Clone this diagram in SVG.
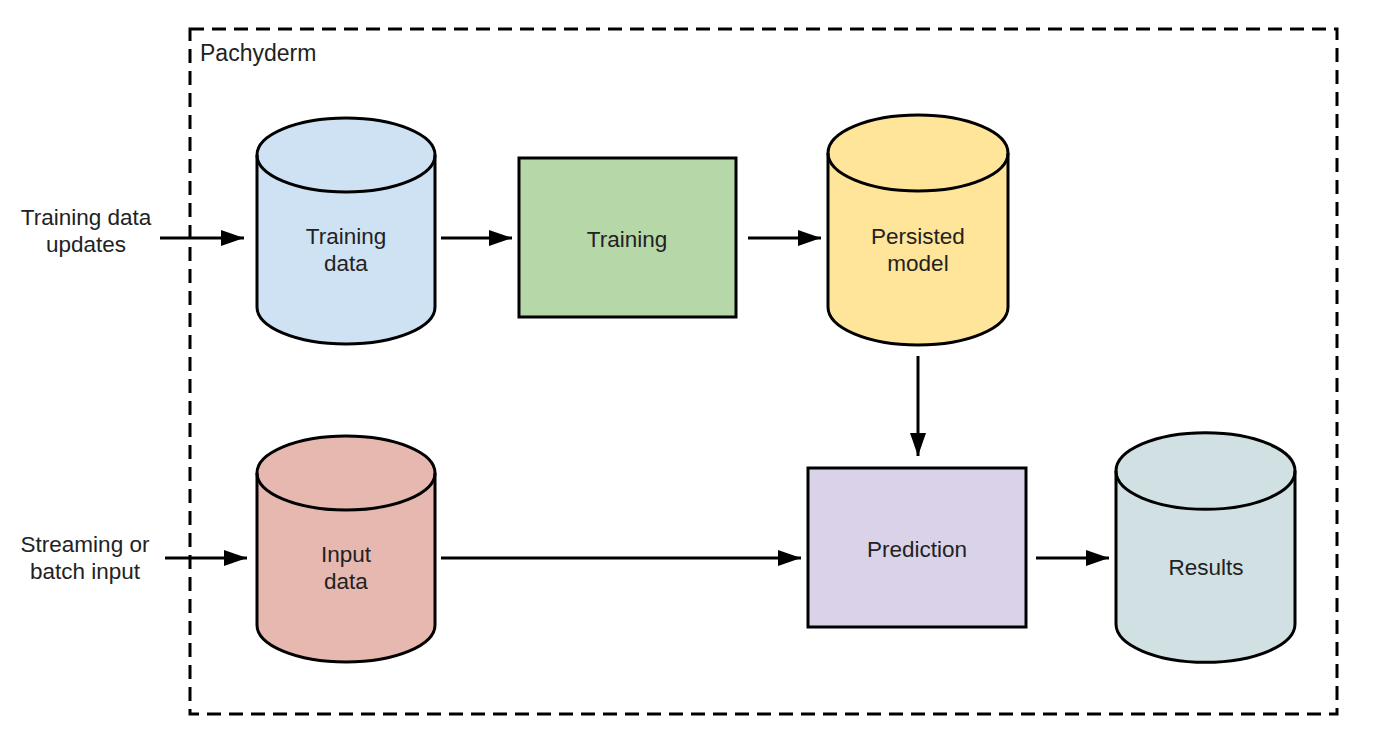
<svg xmlns="http://www.w3.org/2000/svg" width="1375" height="738" viewBox="0 0 1375 738">
<defs>
<style>
.lbl{font-family:"Liberation Sans",Arial,sans-serif;font-size:22.5px;fill:#222;text-anchor:middle}
.shape{stroke:#000;stroke-width:3}
.conn{stroke:#000;stroke-width:3;fill:none}
</style>
<marker id="ah" viewBox="0 0 23 16" refX="23" refY="8" markerWidth="23" markerHeight="16" markerUnits="userSpaceOnUse" orient="auto">
<path d="M0,0 L23,8 L0,16 Z" fill="#000"/>
</marker>
</defs>
<rect width="1375" height="738" fill="#fff"/>
<g id="pachyderm">
<rect x="190" y="29" width="1147" height="685" fill="none" stroke="#000" stroke-width="3" stroke-dasharray="14 8"/>
<text x="200" y="61" style="font-family:'Liberation Sans',Arial,sans-serif;font-size:23px;fill:#222">Pachyderm</text>
</g>
<g id="connectors">
<line class="conn" x1="160" y1="238" x2="244" y2="238" marker-end="url(#ah)"/>
<line class="conn" x1="441" y1="238" x2="512" y2="238" marker-end="url(#ah)"/>
<line class="conn" x1="748" y1="238" x2="821" y2="238" marker-end="url(#ah)"/>
<line class="conn" x1="918" y1="356" x2="918" y2="456" marker-end="url(#ah)"/>
<line class="conn" x1="165" y1="558" x2="247" y2="558" marker-end="url(#ah)"/>
<line class="conn" x1="441" y1="558" x2="801" y2="558" marker-end="url(#ah)"/>
<line class="conn" x1="1036" y1="558" x2="1109" y2="558" marker-end="url(#ah)"/>
</g>
<g id="training-data-updates">
<text class="lbl" x="86" y="225">Training data</text>
<text class="lbl" x="86" y="252">updates</text>
</g>
<g id="streaming-input">
<text class="lbl" x="85" y="552">Streaming or</text>
<text class="lbl" x="85" y="579">batch input</text>
</g>
<g id="training-data">
<path class="shape" fill="#cfe2f3" d="M257,155 A89,37 0 0 1 435,155 L435,307 A89,37 0 0 1 257,307 Z"/>
<path class="shape" fill="none" d="M257,155 A89,37 0 0 0 435,155"/>
<text class="lbl" x="346" y="244">Training</text>
<text class="lbl" x="346" y="271">data</text>
</g>
<g id="training">
<rect class="shape" x="519" y="158" width="217" height="159" fill="#b6d7a8"/>
<text class="lbl" x="627" y="247">Training</text>
</g>
<g id="persisted-model">
<path class="shape" fill="#ffe599" d="M828,153 A90,38 0 0 1 1008,153 L1008,307 A90,38 0 0 1 828,307 Z"/>
<path class="shape" fill="none" d="M828,153 A90,38 0 0 0 1008,153"/>
<text class="lbl" x="918" y="244">Persisted</text>
<text class="lbl" x="918" y="271">model</text>
</g>
<g id="input-data">
<path class="shape" fill="#e6b8af" d="M257,473 A89,37 0 0 1 435,473 L435,625 A89,37 0 0 1 257,625 Z"/>
<path class="shape" fill="none" d="M257,473 A89,37 0 0 0 435,473"/>
<text class="lbl" x="346" y="562">Input</text>
<text class="lbl" x="346" y="589">data</text>
</g>
<g id="prediction">
<rect class="shape" x="808" y="468" width="218" height="159" fill="#d9d2e9"/>
<text class="lbl" x="917" y="557">Prediction</text>
</g>
<g id="results">
<path class="shape" fill="#d0e0e3" d="M1116,471 A89,38 0 0 1 1295,471 L1295,624 A89,38 0 0 1 1116,624 Z"/>
<path class="shape" fill="none" d="M1116,471 A89,38 0 0 0 1295,471"/>
<text class="lbl" x="1206" y="575">Results</text>
</g>
</svg>
